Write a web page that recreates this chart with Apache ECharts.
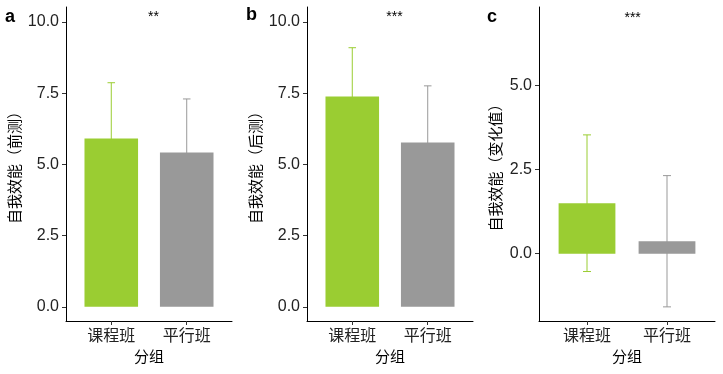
<!DOCTYPE html>
<html><head><meta charset="utf-8">
<script src="https://cdn.jsdelivr.net/npm/echarts@6/dist/echarts.min.js"></script>
<style>html,body{margin:0;padding:0;background:#fff}#c{width:723px;height:374px}</style>
</head><body><div id="c"></div><script>
// ---- data ----
const categories = ['课程班', '平行班'];
const catX = [1, 2];
const preMean = [5.91, 5.42];
const preSD = [1.96, 1.88];
const postMean = [7.39, 5.77];
const postSD = [1.71, 1.99];
const chgMean = [1.50, 0.37];
const chgSD = [2.03, 1.95];
const panelLabels = ['a', 'b', 'c'];
const yTitles = ['自我效能（前测）', '自我效能（后测）', '自我效能（变化值）'];
const xTitle = '分组';
const sigLabels = ['**', '***', '***'];
const sigPos = [[1.56, 10.18], [1.56, 10.18], [1.57, 7.0]];
const yTicksAB = [0, 2.5, 5, 7.5, 10];
const yTicksC = [0, 2.5, 5];
const colors = ['#9ACD32', '#999999'];

const FONT = '"Liberation Sans", Arial, "Noto Sans CJK SC", sans-serif';
const CJK = '"Noto Sans CJK SC", "Liberation Sans", sans-serif';

const grids = [
  { left: 66, right: 723 - 232, top: 7, bottom: 374 - 321 },
  { left: 307, right: 723 - 473, top: 7, bottom: 374 - 321 },
  { left: 539, right: 723 - 715, top: 7, bottom: 374 - 321 }
];
const yRanges = [[-0.5, 10.53], [-0.5, 10.53], [-2.0, 7.33]];
const yTicks = [yTicksAB, yTicksAB, yTicksC];
const nameGaps = [44, 44, 36];
const means = [preMean, postMean, chgMean];
const sds = [preSD, postSD, chgSD];

const BW = 0.71, CAP = 0.1;

function barRender(params, api) {
  const x = api.value(0), m = api.value(1), s = api.value(2), k = api.value(3);
  const c = colors[k];
  const a = api.coord([x - BW / 2, 0]);
  const b = api.coord([x + BW / 2, m]);
  const top = api.coord([x, m + s]);
  const bot = api.coord([x, m - s]);
  const cl = api.coord([x - CAP / 2, m + s]);
  const cr = api.coord([x + CAP / 2, m + s]);
  const bl = api.coord([x - CAP / 2, m - s]);
  const br = api.coord([x + CAP / 2, m - s]);
  const ls = { stroke: c, lineWidth: 1 };
  return {
    type: 'group',
    children: [
      { type: 'line', shape: { x1: top[0], y1: top[1], x2: bot[0], y2: bot[1] }, style: ls },
      { type: 'line', shape: { x1: cl[0], y1: cl[1], x2: cr[0], y2: cr[1] }, style: ls },
      { type: 'line', shape: { x1: bl[0], y1: bl[1], x2: br[0], y2: br[1] }, style: ls },
      { type: 'rect', shape: { x: Math.min(a[0], b[0]), y: Math.min(a[1], b[1]), width: Math.abs(b[0] - a[0]), height: Math.abs(b[1] - a[1]) }, style: { fill: c } }
    ]
  };
}

function starRender(params, api) {
  const p = api.coord([api.value(0), api.value(1)]);
  return { type: 'text', x: p[0], y: p[1], style: { text: sigLabels[params.seriesIndex / 2 | 0], fill: '#000', font: '14px ' + FONT, align: 'center', verticalAlign: 'middle' } };
}

const xAxis = [], yAxis = [], series = [];
for (let i = 0; i < 3; i++) {
  xAxis.push({
    gridIndex: i, type: 'value', min: 0.4, max: 2.6,
    name: xTitle, nameLocation: 'middle', nameGap: 28,
    nameTextStyle: { fontFamily: CJK, fontSize: 15, color: '#000' },
    axisLine: { show: true, onZero: false, lineStyle: { color: '#000', width: 1 } },
    axisTick: { show: true, length: 4, customValues: catX, lineStyle: { color: '#333' } },
    axisLabel: { customValues: catX, margin: 6, fontFamily: CJK, fontSize: 16, color: '#222',
      formatter: v => categories[Math.round(v) - 1] },
    splitLine: { show: false }
  });
  yAxis.push({
    gridIndex: i, type: 'value', min: yRanges[i][0], max: yRanges[i][1],
    name: yTitles[i], nameLocation: 'middle', nameGap: nameGaps[i], nameRotate: 90,
    nameTextStyle: { fontFamily: CJK, fontSize: 15, color: '#000' },
    axisLine: { show: true, onZero: false, lineStyle: { color: '#000', width: 1 } },
    axisTick: { show: true, length: 4, customValues: yTicks[i], lineStyle: { color: '#333' } },
    axisLabel: { customValues: yTicks[i], margin: 7, fontFamily: FONT, fontSize: 16, color: '#222',
      formatter: v => v.toFixed(1) },
    splitLine: { show: false }
  });
  series.push({
    type: 'custom', xAxisIndex: i, yAxisIndex: i, renderItem: barRender,
    data: catX.map((x, k) => [x, means[i][k], sds[i][k], k]),
    clip: false, silent: true
  });
  series.push({
    type: 'custom', xAxisIndex: i, yAxisIndex: i, renderItem: starRender,
    data: [sigPos[i]], clip: false, silent: true
  });
}

const chart = echarts.init(document.getElementById('c'), null, { renderer: 'canvas' });
chart.setOption({
  animation: false,
  backgroundColor: '#fff',
  grid: grids,
  xAxis, yAxis, series,
  graphic: [
    { type: 'text', left: 5, top: 8, style: { text: panelLabels[0], font: 'bold 18px ' + FONT, fill: '#000' } },
    { type: 'text', left: 246, top: 6, style: { text: panelLabels[1], font: 'bold 18px ' + FONT, fill: '#000' } },
    { type: 'text', left: 487, top: 8, style: { text: panelLabels[2], font: 'bold 18px ' + FONT, fill: '#000' } }
  ]
});
</script></body></html>
